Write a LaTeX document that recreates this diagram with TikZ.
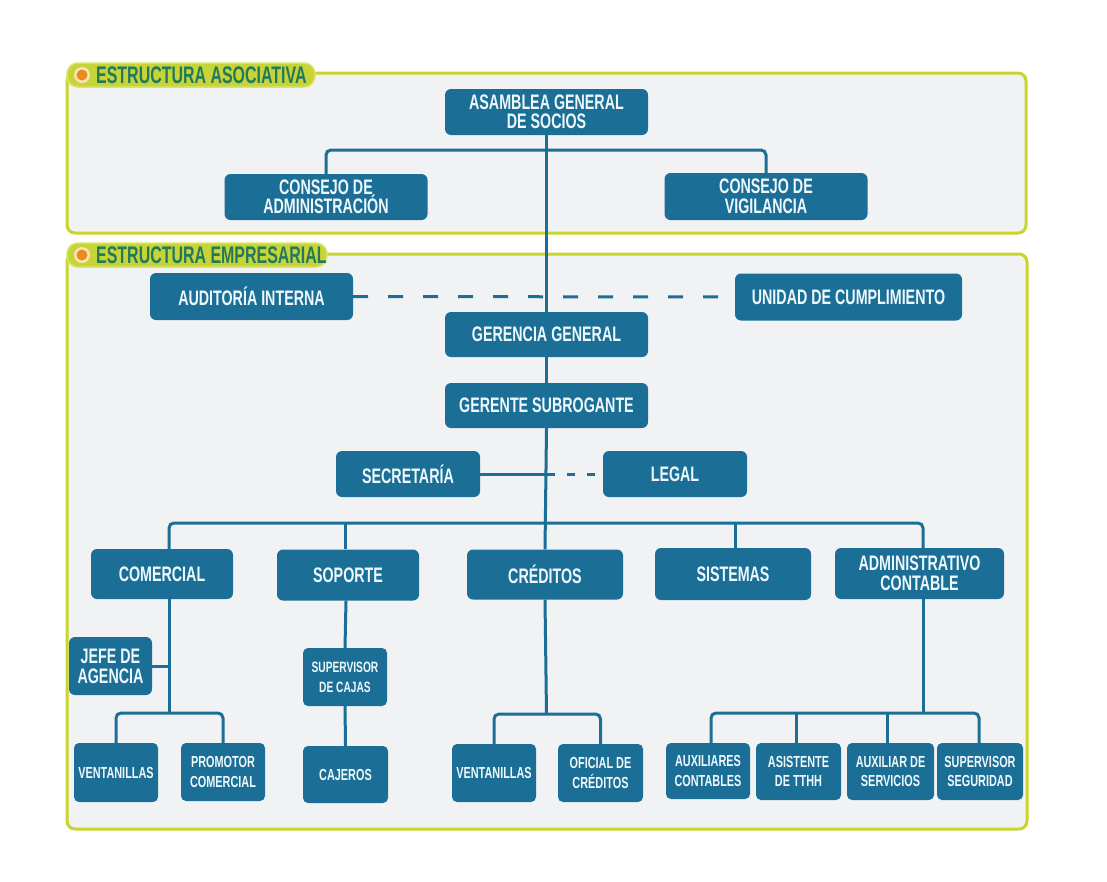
\documentclass[tikz,border=0pt]{standalone}
\usepackage{fontspec}
\setmainfont{Liberation Sans}[FakeStretch=0.68]
\newfontfamily\tabfont{Liberation Sans}[FakeStretch=0.665]
\definecolor{boxblue}{HTML}{1B6F96}
\definecolor{boxtext}{HTML}{EEF8FC}
\definecolor{panelfill}{HTML}{F1F2F4}
\definecolor{panelline}{HTML}{C8D52C}
\definecolor{tabfill}{HTML}{C6D438}
\definecolor{tabedge}{HTML}{D9E36A}
\definecolor{tabtext}{HTML}{23795C}
\definecolor{dotfill}{HTML}{EE8A1C}
\definecolor{dotring}{HTML}{F7E4B8}
\tikzset{
  panel/.style={draw=panelline, fill=panelfill, line width=3pt, rounded corners=8pt},
  tab/.style={draw=tabedge, fill=tabfill, line width=1.5pt, rounded corners=11pt},
  tablabel/.style={text=tabtext, inner sep=0pt, font=\tabfont\bfseries\fontsize{24}{24}\selectfont},
  box/.style={fill=boxblue, rounded corners=6pt, text=boxtext, align=center, inner sep=0pt,
              font=\bfseries\fontsize{21}{19.5}\selectfont},
  smallbox/.style={box, rounded corners=5pt, font=\bfseries\fontsize{16}{19.5}\selectfont},
  conn/.style={draw=boxblue, line width=3pt},
  elbow/.style={conn, rounded corners=5pt},
  dashlong/.style={conn, dash pattern=on 15pt off 20pt},
  dashshort/.style={conn, dash pattern=on 8pt off 12pt},
}
\begin{document}
\begin{tikzpicture}[x=1pt,y=-1pt]
\useasboundingbox (0,0) rectangle (1107,881);
\fill[white] (0,0) rectangle (1107,881);

% frames of the two structures
\draw[panel] (67,73) rectangle (1026,233);
\draw[panel] (67,254) rectangle (1027,829);

% frame titles
\draw[tab] (67,63) rectangle (315,87);
\fill[dotring] (82,75) circle[radius=8pt];
\fill[dotfill] (82,75) circle[radius=5.5pt];
\node[tablabel, anchor=west] (tasoc) at (96,75.5) {ESTRUCTURA ASOCIATIVA};

\draw[tab] (67,243) rectangle (327,267);
\fill[dotring] (82,255) circle[radius=8pt];
\fill[dotfill] (82,255) circle[radius=5.5pt];
\node[tablabel, anchor=west] (templ) at (96,255.5) {ESTRUCTURA EMPRESARIAL};

% associative structure
\node[box, minimum width=203, minimum height=46] (asm) at (546.5,112) {ASAMBLEA GENERAL\\DE SOCIOS};
\node[box, minimum width=203, minimum height=46] (cadm) at (326,197) {CONSEJO DE\\ADMINISTRACIÓN};
\node[box, minimum width=203, minimum height=47] (cvig) at (766,196.5) {CONSEJO DE\\VIGILANCIA};

% business structure
\node[box, minimum width=203, minimum height=47] (aud) at (251.5,296.5) {AUDITORÍA INTERNA};
\node[box, minimum width=227, minimum height=47] (uni) at (848.5,297) {UNIDAD DE CUMPLIMIENTO};
\node[box, minimum width=203, minimum height=45] (ger) at (546.5,334.5) {GERENCIA GENERAL};
\node[box, minimum width=203, minimum height=45] (gsub) at (546.5,405.5) {GERENTE SUBROGANTE};
\node[box, minimum width=144, minimum height=46] (sec) at (408,474) {SECRETARÍA};
\node[box, minimum width=144, minimum height=46] (leg) at (675,474) {LEGAL};

\node[box, minimum width=142, minimum height=50] (com) at (162,574) {COMERCIAL};
\node[box, minimum width=142, minimum height=51] (sop) at (348,575) {SOPORTE};
\node[box, minimum width=156, minimum height=50] (cre) at (545,574.5) {CRÉDITOS};
\node[box, minimum width=156, minimum height=52] (sis) at (733,574) {SISTEMAS};
\node[box, minimum width=169, minimum height=51, font=\bfseries\fontsize{21}{20.5}\selectfont] (adm) at (919.5,573.5) {ADMINISTRATIVO\\CONTABLE};

\node[box, minimum width=83, minimum height=58, font=\bfseries\fontsize{21}{20}\selectfont] (jefe) at (110.5,666) {JEFE DE\\AGENCIA};
\node[smallbox, minimum width=84, minimum height=59] (vent1) at (116,772.5) {VENTANILLAS};
\node[smallbox, minimum width=84, minimum height=58] (prom) at (223,772) {PROMOTOR\\COMERCIAL};
\node[smallbox, minimum width=84, minimum height=58, font=\bfseries\fontsize{15}{20}\selectfont] (supc) at (345,677) {SUPERVISOR\\DE CAJAS};
\node[smallbox, minimum width=85, minimum height=57] (caj) at (345.5,774.5) {CAJEROS};
\node[smallbox, minimum width=84, minimum height=58] (vent2) at (494,773) {VENTANILLAS};
\node[smallbox, minimum width=85, minimum height=58] (ofi) at (600.5,773) {OFICIAL DE\\CRÉDITOS};
\node[smallbox, minimum width=84, minimum height=56] (auxc) at (708,771) {AUXILIARES\\CONTABLES};
\node[smallbox, minimum width=85, minimum height=57] (asis) at (798.5,771.5) {ASISTENTE\\DE TTHH};
\node[smallbox, minimum width=87, minimum height=57] (auxs) at (890.5,771.5) {AUXILIAR DE\\SERVICIOS};
\node[smallbox, minimum width=86, minimum height=57] (sups) at (980,771.5) {SUPERVISOR\\SEGURIDAD};

% junction points of the branch lines
\coordinate (topbus) at (546.5,150);
\coordinate (bus) at (546.5,523);
\coordinate (comjoin) at (169,713);
\coordinate (crejoin) at (546.5,714);
\coordinate (admjoin) at (923,713);

% connectors
\draw[conn] (asm.south) -- (ger.north);
\draw[elbow] (cadm.north) |- (topbus) -| (cvig.north);
\draw[dashlong] (aud.east) -- (uni.west);
\draw[conn] (ger.south) -- (gsub.north);
\draw[conn] (gsub.south) -- (cre.north);
\draw[conn] (sec.east) -- (sec.east -| gsub.south);
\draw[dashshort] (sec.east -| gsub.south) -- (leg.west);
\draw[elbow] ([xshift=7pt]com.north) |- (bus) -| ([xshift=3.5pt]adm.north);
\draw[conn] ([xshift=-3pt]sop.north) -- ([xshift=-3pt]sop.north |- bus);
\draw[conn] ([xshift=2pt]sis.north) -- ([xshift=2pt]sis.north |- bus);

\draw[conn] ([xshift=7pt]com.south) -- (comjoin);
\draw[conn] (jefe.east) -- (jefe.east -| comjoin);
\draw[elbow] (vent1.north) |- (comjoin) -| (prom.north);

\draw[conn] ([xshift=-2pt]sop.south) -- (supc.north);
\draw[conn] (supc.south) -- (caj.north);

\draw[conn] (cre.south) -- (crejoin);
\draw[elbow] (vent2.north) |- (crejoin) -| (ofi.north);

\draw[conn] ([xshift=3.5pt]adm.south) -- (admjoin);
\draw[elbow] ([xshift=3pt]auxc.north) |- (admjoin) -| ([xshift=-1pt]sups.north);
\draw[conn] ([xshift=-2.5pt]asis.north) -- ([xshift=-2.5pt]asis.north |- admjoin);
\draw[conn] ([xshift=-3.5pt]auxs.north) -- ([xshift=-3.5pt]auxs.north |- admjoin);
\end{tikzpicture}
\end{document}
